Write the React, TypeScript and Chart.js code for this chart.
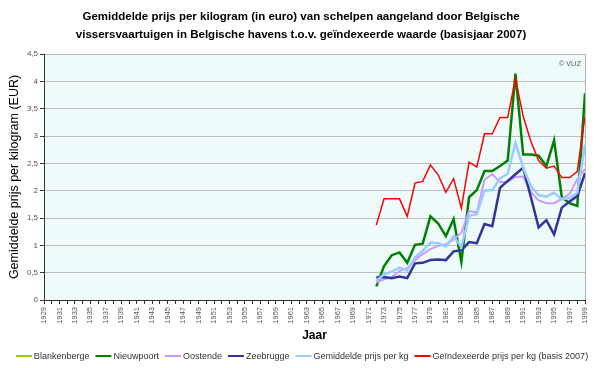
import React, { useEffect, useRef } from 'react';
import { Chart, registerables } from 'chart.js';

Chart.register(...registerables);

const firstYear = 1929;
const lastYear = 1999;
const seriesStart = 1972;

const years: string[] = [];
for (let y = firstYear; y <= lastYear; y++) years.push(String(y));

const titleLines = [
  'Gemiddelde prijs per kilogram (in euro) van schelpen aangeland door Belgische',
  'vissersvaartuigen in Belgische havens t.o.v. geïndexeerde waarde (basisjaar 2007)',
];

// values 1972 .. 1999
const blankenberge: (number | null)[] = [];
const nieuwpoort = [0.25, 0.62, 0.82, 0.87, 0.68, 1.01, 1.03, 1.53, 1.40, 1.17, 1.48, 0.70, 1.88, 2.01, 2.36, 2.36, 2.45, 2.55, 4.14, 2.66, 2.66, 2.64, 2.45, 2.92, 1.88, 1.77, 1.72, 3.78];
const oostende = [0.32, 0.38, 0.42, 0.53, 0.58, 0.73, 0.84, 0.93, 0.99, 1.02, 1.11, 1.23, 1.63, 1.60, 2.20, 2.30, 2.16, 2.16, 2.25, 2.26, 1.97, 1.82, 1.77, 1.77, 1.85, 1.94, 2.21, 2.40];
const zeebrugge = [0.41, 0.42, 0.40, 0.43, 0.40, 0.67, 0.68, 0.73, 0.74, 0.73, 0.89, 0.91, 1.06, 1.04, 1.39, 1.35, 2.05, 2.18, 2.30, 2.42, 1.88, 1.33, 1.46, 1.20, 1.69, 1.80, 1.90, 2.32];
const gemiddelde = [0.35, 0.47, 0.52, 0.59, 0.54, 0.78, 0.90, 1.05, 1.04, 0.98, 1.17, 0.97, 1.54, 1.57, 2.00, 2.01, 2.22, 2.31, 2.88, 2.42, 2.08, 1.92, 1.89, 1.96, 1.84, 1.87, 1.96, 2.84];
const geindexeerde = [1.37, 1.85, 1.85, 1.85, 1.53, 2.14, 2.17, 2.47, 2.29, 1.97, 2.22, 1.68, 2.52, 2.43, 3.04, 3.04, 3.34, 3.34, 4.05, 3.36, 2.90, 2.55, 2.41, 2.45, 2.24, 2.24, 2.35, 3.36];

const seriesNames = [
  'Blankenberge',
  'Nieuwpoort',
  'Oostende',
  'Zeebrugge',
  'Gemiddelde prijs per kg',
  'Geïndexeerde prijs per kg (basis 2007)',
];
const seriesValues = [blankenberge, nieuwpoort, oostende, zeebrugge, gemiddelde, geindexeerde];
const seriesColors = ['#99cc00', '#008000', '#cc99ff', '#333399', '#99ccff', '#ff0000'];
const seriesWidths = [2.5, 2.5, 2, 2.5, 2.5, 1.5];

const pad = (arr: (number | null)[]) => {
  const out: (number | null)[] = [];
  for (let y = firstYear; y < seriesStart; y++) out.push(null);
  for (const v of arr) out.push(v);
  while (out.length < years.length) out.push(null);
  return out;
};

const decor = {
  id: 'decor',
  beforeDraw(chart: any) {
    const { ctx, chartArea: a } = chart;
    ctx.save();
    ctx.fillStyle = '#ffffff';
    ctx.fillRect(0, 0, chart.width, chart.height);
    ctx.fillStyle = '#effbfb';
    ctx.fillRect(a.left, a.top, a.right - a.left, a.bottom - a.top);
    ctx.restore();
  },
  afterDraw(chart: any) {
    const { ctx, chartArea: a } = chart;
    ctx.save();
    // right border
    ctx.strokeStyle = '#b4b4b4';
    ctx.lineWidth = 1;
    ctx.beginPath();
    ctx.moveTo(Math.round(a.right) + 0.5, a.top);
    ctx.lineTo(Math.round(a.right) + 0.5, a.bottom);
    ctx.stroke();
    // title
    ctx.fillStyle = '#000';
    ctx.font = 'bold 11.5px "Liberation Sans", Arial, sans-serif';
    ctx.textAlign = 'center';
    ctx.textBaseline = 'middle';
    ctx.fillText(titleLines[0], 301, 17);
    ctx.fillText(titleLines[1], 301, 35);
    // copyright
    ctx.font = '7px "Liberation Sans", Arial, sans-serif';
    ctx.fillStyle = '#555';
    ctx.textAlign = 'right';
    ctx.fillText('© VLIZ', a.right - 4, a.top + 10);
    // legend
    ctx.font = '9px "Liberation Sans", Arial, sans-serif';
    const sample = 16, gapText = 2, gapItem = 6;
    const widths = seriesNames.map((n) => ctx.measureText(n).width);
    let total = 0;
    widths.forEach((w, i) => { total += sample + gapText + w + (i > 0 ? gapItem : 0); });
    let x = 302 - total / 2;
    const y = 356;
    ctx.textAlign = 'left';
    seriesNames.forEach((n, i) => {
      ctx.strokeStyle = seriesColors[i];
      ctx.lineWidth = 2;
      ctx.beginPath();
      ctx.moveTo(x, y);
      ctx.lineTo(x + sample, y);
      ctx.stroke();
      ctx.fillStyle = '#333';
      ctx.fillText(n, x + sample + gapText, y + 0.5);
      x += sample + gapText + widths[i] + gapItem;
    });
    ctx.restore();
  },
};

export default function App() {
  const ref = useRef<HTMLCanvasElement | null>(null);
  useEffect(() => {
    document.body.style.margin = '0';
    const canvas = ref.current!;
    const chart = new Chart(canvas, {
      type: 'line',
      data: {
        labels: years,
        datasets: seriesNames.map((name, i) => ({
          label: name,
          data: pad(seriesValues[i]),
          borderColor: seriesColors[i],
          backgroundColor: seriesColors[i],
          borderWidth: seriesWidths[i],
          pointRadius: 0,
          pointHoverRadius: 0,
          tension: 0,
          fill: false,
          order: seriesNames.length - i,
        })),
      },
      options: {
        animation: false,
        responsive: false,
        devicePixelRatio: 1,
        layout: { padding: { top: 54, right: 15, bottom: 22, left: 0 } },
        plugins: {
          legend: { display: false },
          title: { display: false },
          tooltip: { enabled: false },
        },
        scales: {
          x: {
            type: 'category',
            offset: false,
            grid: { drawOnChartArea: false, drawTicks: true, tickLength: 4, tickColor: '#333' },
            border: { display: true, color: '#333', width: 1 },
            ticks: {
              autoSkip: false,
              maxRotation: 90,
              minRotation: 90,
              padding: 3,
              color: '#555',
              font: { size: 7.5, family: '"Liberation Sans", Arial, sans-serif' },
              callback: (_v: any, i: number) => (i % 2 === 0 ? years[i] : ''),
            },
            title: {
              display: true,
              text: 'Jaar',
              color: '#000',
              font: { size: 12, weight: 'bold', family: '"Liberation Sans", Arial, sans-serif' },
              padding: { top: 0, bottom: 3 },
            },
            afterFit: (s: any) => { s.height = 46; },
          },
          y: {
            min: 0,
            max: 4.5,
            grid: { color: '#bcbcbc', tickLength: 4, tickColor: '#333' },
            border: { display: true, color: '#333', width: 1 },
            ticks: {
              stepSize: 0.5,
              padding: 2,
              color: '#555',
              font: { size: 8, family: '"Liberation Sans", Arial, sans-serif' },
              callback: (v: any) => String(v).replace('.', ','),
            },
            title: {
              display: true,
              text: 'Gemiddelde prijs per kilogram (EUR)',
              color: '#000',
              font: { size: 12.5, family: '"Liberation Sans", Arial, sans-serif' },
              padding: { top: 7, bottom: 0 },
            },
            afterFit: (s: any) => { s.width = 44; },
          },
        },
      },
      plugins: [decor],
    });
    return () => chart.destroy();
  }, []);
  return (
    <div style={{ position: 'absolute', left: 0, top: 0, width: 600, height: 368 }}>
      <canvas ref={ref} width={600} height={368} />
    </div>
  );
}
